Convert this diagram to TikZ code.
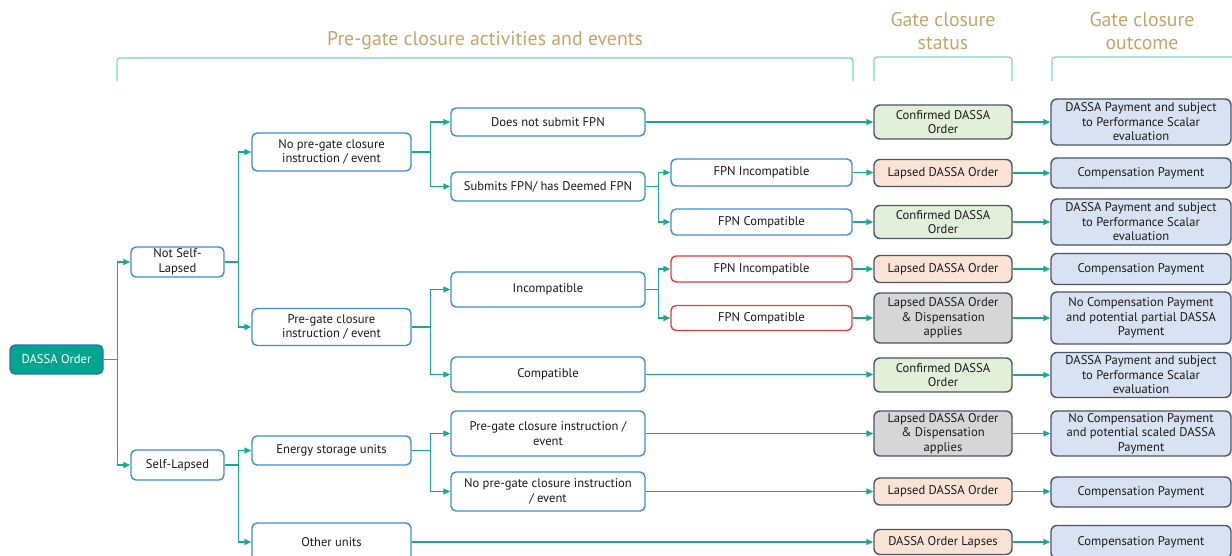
\documentclass[tikz,border=0pt]{standalone}
\usepackage{fontspec}
\setmainfont{PT Sans}
\usetikzlibrary{arrows.meta}
\definecolor{teal}{HTML}{19AA8D}
\definecolor{bracketc}{HTML}{7FD3C4}
\definecolor{gold}{HTML}{C3A56B}
\definecolor{bblue}{HTML}{3C8DD3}
\definecolor{bred}{HTML}{E53B3B}
\definecolor{slate}{HTML}{4A5568}
\definecolor{fgreen}{HTML}{E2EFD9}
\definecolor{fpeach}{HTML}{FBE4D5}
\definecolor{fgray}{HTML}{D6D6D6}
\definecolor{fblue}{HTML}{D9E2F3}
\definecolor{dassafill}{HTML}{00A58E}
\definecolor{dassaborder}{HTML}{2F6FBA}
\definecolor{txt}{HTML}{1A1A1A}
\tikzset{
  base/.style={rectangle, rounded corners=5pt, line width=1.4pt, align=center, inner sep=1pt, font=\fontsize{12.6}{14.5}\selectfont, text=txt},
  wbox/.style={base, draw=bblue, fill=white},
  rbox/.style={base, draw=bred, fill=white},
  gbox/.style={base, draw=slate, fill=fgreen, rounded corners=6pt},
  pbox/.style={base, draw=slate, fill=fpeach, rounded corners=6pt},
  ybox/.style={base, draw=slate, fill=fgray, rounded corners=6pt},
  obox/.style={base, draw=slate, fill=fblue, rounded corners=6pt},
  root/.style={base, draw=dassaborder, fill=dassafill, text=white},
  arr/.style={draw=teal, line width=1.4pt, -{Triangle[length=7pt,width=6pt]}},
  bline/.style={draw=bracketc, line width=1.2pt, rounded corners=3pt},
  head/.style={text=gold, align=center, font=\fontsize{19.8}{22.5}\selectfont}
}
\begin{document}
\begin{tikzpicture}[x=1pt,y=-1pt]
\useasboundingbox (0,0) rectangle (1232,555);

% headings
\node[head] (h1) at (485,41) {Pre-gate closure activities and events};
\node[head] (h2) at (943,31) {Gate closure\\status};
\node[head] (h3) at (1142,31) {Gate closure\\outcome};
\draw[bline] (117,81) -- (117,58) -- (853,58) -- (853,81);
\draw[bline] (874,81) -- (874,57) -- (1012,57) -- (1012,81);
\draw[bline] (1052,81) -- (1052,57) -- (1240,57);

% level 0-2
\node[root, minimum width=93, minimum height=29] (dassa) at (56.5,359.5) {DASSA Order};
\node[wbox, minimum width=93, minimum height=30] (nsl) at (177.5,262) {Not Self-\\Lapsed};
\node[wbox, minimum width=93, minimum height=30] (sl) at (177.5,465) {Self-Lapsed};
\node[wbox, minimum width=159, minimum height=38] (nopre) at (331.5,152) {No pre-gate closure\\instruction / event};
\node[wbox, minimum width=159, minimum height=37] (pre) at (331.5,327) {Pre-gate closure\\instruction / event};
\node[wbox, minimum width=159, minimum height=29] (esu) at (331.5,450.5) {Energy storage units};
\node[wbox, minimum width=159, minimum height=38] (other) at (331.5,542) {Other units};

% level 3
\node[wbox, minimum width=194, minimum height=28] (dns) at (548,122) {Does not submit FPN};
\node[wbox, minimum width=194, minimum height=29] (sub) at (548,186.5) {Submits FPN/ has Deemed FPN};
\node[wbox, minimum width=194, minimum height=35] (inc) at (548,289.5) {Incompatible};
\node[wbox, minimum width=194, minimum height=35] (com) at (548,374.5) {Compatible};
\node[wbox, minimum width=194, minimum height=45] (pesu) at (548,433.5) {Pre-gate closure instruction /\\event};
\node[wbox, minimum width=194, minimum height=39] (npesu) at (548,491.5) {No pre-gate closure instruction\\/ event};

% level 4
\node[wbox, minimum width=181, minimum height=27] (fi1) at (761.5,172.5) {FPN Incompatible};
\node[wbox, minimum width=181, minimum height=26] (fc1) at (761.5,222) {FPN Compatible};
\node[rbox, minimum width=181, minimum height=26] (fi2) at (761.5,269) {FPN Incompatible};
\node[rbox, minimum width=181, minimum height=25] (fc2) at (761.5,318) {FPN Compatible};

% status
\node[gbox, minimum width=138, minimum height=34] (s1) at (943,122) {Confirmed DASSA\\Order};
\node[pbox, minimum width=138, minimum height=27] (s2) at (943,173) {Lapsed DASSA Order};
\node[gbox, minimum width=138, minimum height=33] (s3) at (943,222) {Confirmed DASSA\\Order};
\node[pbox, minimum width=138, minimum height=27] (s4) at (943,269) {Lapsed DASSA Order};
\node[ybox, minimum width=138, minimum height=50] (s5) at (943,318) {Lapsed DASSA Order\\\& Dispensation\\applies};
\node[gbox, minimum width=138, minimum height=34] (s6) at (943,375) {Confirmed DASSA\\Order};
\node[ybox, minimum width=138, minimum height=45] (s7) at (943,433.5) {Lapsed DASSA Order\\\& Dispensation\\applies};
\node[pbox, minimum width=138, minimum height=27] (s8) at (943,491.5) {Lapsed DASSA Order};
\node[pbox, minimum width=138, minimum height=25] (s9) at (943,542) {DASSA Order Lapses};

% outcome
\node[obox, minimum width=180, minimum height=46] (o1) at (1141,122) {DASSA Payment and subject\\to Performance Scalar\\evaluation};
\node[obox, minimum width=180, minimum height=30] (o2) at (1141,173) {Compensation Payment};
\node[obox, minimum width=180, minimum height=46] (o3) at (1141,222) {DASSA Payment and subject\\to Performance Scalar\\evaluation};
\node[obox, minimum width=180, minimum height=31] (o4) at (1141,269) {Compensation Payment};
\node[obox, minimum width=180, minimum height=52] (o5) at (1141,318) {No Compensation Payment\\and potential partial DASSA\\Payment};
\node[obox, minimum width=180, minimum height=45] (o6) at (1141,375) {DASSA Payment and subject\\to Performance Scalar\\evaluation};
\node[obox, minimum width=180, minimum height=45] (o7) at (1141,433.5) {No Compensation Payment\\and potential scaled DASSA\\Payment};
\node[obox, minimum width=180, minimum height=30] (o8) at (1141,492) {Compensation Payment};
\node[obox, minimum width=180, minimum height=33] (o9) at (1141,542) {Compensation Payment};

% branches
\draw[arr] (dassa.east) -- ++(14,0) |- (nsl.west);
\draw[arr] (dassa.east) -- ++(14,0) |- (sl.west);
\draw[arr] (nsl.east) -- ++(14,0) |- (nopre.west);
\draw[arr] (nsl.east) -- ++(14,0) |- (pre.west);
\draw[arr] (sl.east) -- ++(14,0) |- (esu.west);
\draw[arr] (sl.east) -- ++(14,0) |- (other.west);
\draw[arr] (nopre.east) -- ++(19,0) |- (dns.west);
\draw[arr] (nopre.east) -- ++(19,0) |- (sub.west);
\draw[arr] (pre.east) -- ++(19,0) |- (inc.west);
\draw[arr] (pre.east) -- ++(19,0) |- (com.west);
\draw[arr] (esu.east) -- ++(19,0) |- (pesu.west);
\draw[arr] (esu.east) -- ++(19,0) |- (npesu.west);
\draw[arr] (sub.east) -- ++(13,0) |- (fi1.west);
\draw[arr] (sub.east) -- ++(13,0) |- (fc1.west);
\draw[arr] (inc.east) -- ++(13,0) |- (fi2.west);
\draw[arr] (inc.east) -- ++(13,0) |- (fc2.west);

% to status
\draw[arr] (dns.east) -- (dns.east -| s1.west);
\draw[arr] (fi1.east) -- (fi1.east -| s2.west);
\draw[arr] (fc1.east) -- (fc1.east -| s3.west);
\draw[arr] (fi2.east) -- (fi2.east -| s4.west);
\draw[arr] (fc2.east) -- (fc2.east -| s5.west);
\draw[arr] (com.east) -- (com.east -| s6.west);
\draw[arr] (pesu.east) -- (pesu.east -| s7.west);
\draw[arr] (npesu.east) -- (npesu.east -| s8.west);
\draw[arr] (other.east) -- (other.east -| s9.west);

% to outcome
\draw[arr] (s1.east) -- (s1.east -| o1.west);
\draw[arr] (s2.east) -- (s2.east -| o2.west);
\draw[arr] (s3.east) -- (s3.east -| o3.west);
\draw[arr] (s4.east) -- (s4.east -| o4.west);
\draw[arr] (s5.east) -- (s5.east -| o5.west);
\draw[arr] (s6.east) -- (s6.east -| o6.west);
\draw[arr] (s7.east) -- (s7.east -| o7.west);
\draw[arr] (s8.east) -- (s8.east -| o8.west);
\draw[arr] (s9.east) -- (s9.east -| o9.west);
\end{tikzpicture}
\end{document}
